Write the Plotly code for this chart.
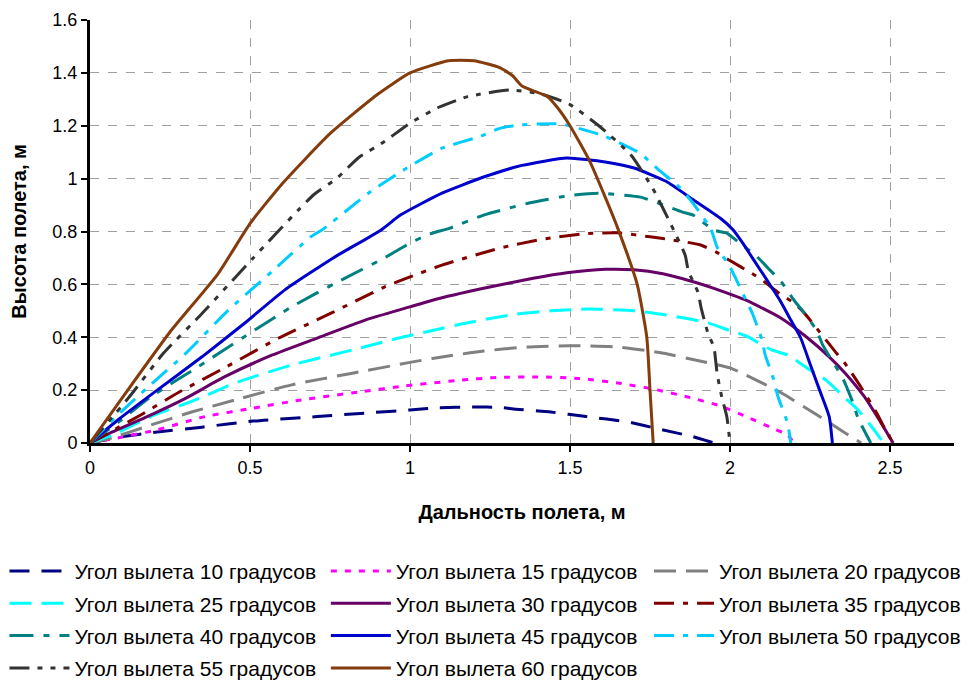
import plotly.graph_objects as go

# ---- data (x: range, m; y: height, m) ----
x10 = [0, 0.09, 0.21, 0.35, 0.51, 0.71, 0.87, 1.0, 1.09, 1.2, 1.28, 1.33, 1.44, 1.55, 1.68, 1.78, 1.885, 1.95]
y10 = [0, 0.022, 0.042, 0.06, 0.083, 0.10, 0.114, 0.125, 0.133, 0.136, 0.135, 0.128, 0.117, 0.10, 0.08, 0.052, 0.024, 0.0]

x15 = [0, 0.09, 0.21, 0.36, 0.51, 0.66, 0.84, 0.985, 1.16, 1.27, 1.4, 1.53, 1.65, 1.76, 1.865, 1.97, 2.05, 2.125, 2.18, 2.2]
y15 = [0, 0.02, 0.05, 0.1, 0.132, 0.163, 0.193, 0.216, 0.238, 0.248, 0.25, 0.244, 0.227, 0.204, 0.175, 0.14, 0.1, 0.06, 0.03, 0.0]

x20 = [0, 0.07, 0.19, 0.32, 0.475, 0.63, 0.82, 1.0, 1.07, 1.23, 1.365, 1.5, 1.65, 1.78, 1.906, 2.0, 2.05, 2.16, 2.28, 2.36, 2.41]
y20 = [0, 0.02, 0.068, 0.118, 0.17, 0.22, 0.264, 0.305, 0.32, 0.348, 0.363, 0.368, 0.363, 0.342, 0.31, 0.284, 0.257, 0.19, 0.1, 0.038, 0]

x25 = [0, 0.07, 0.19, 0.33, 0.46, 0.63, 0.82, 0.975, 1.05, 1.18, 1.33, 1.44, 1.56, 1.70, 1.80, 1.93, 2.0, 2.05, 2.13, 2.18, 2.25, 2.30, 2.36, 2.40, 2.45, 2.48]
y25 = [0, 0.03, 0.10, 0.163, 0.23, 0.295, 0.352, 0.40, 0.42, 0.455, 0.487, 0.50, 0.507, 0.50, 0.484, 0.455, 0.425, 0.405, 0.352, 0.333, 0.276, 0.238, 0.17, 0.125, 0.05, 0]

x30 = [0, 0.07, 0.17, 0.30, 0.42, 0.57, 0.71, 0.86, 1.0, 1.07, 1.23, 1.385, 1.49, 1.61, 1.70, 1.79, 1.885, 1.95, 2.05, 2.16, 2.24, 2.31, 2.36, 2.42, 2.47, 2.51]
y30 = [0, 0.042, 0.095, 0.17, 0.25, 0.333, 0.397, 0.465, 0.515, 0.54, 0.585, 0.623, 0.644, 0.657, 0.655, 0.64, 0.61, 0.585, 0.54, 0.472, 0.40, 0.326, 0.264, 0.175, 0.08, 0]

x35 = [0, 0.09, 0.16, 0.275, 0.42, 0.59, 0.76, 0.92, 1.0, 1.10, 1.28, 1.41, 1.55, 1.65, 1.75, 1.82, 1.906, 1.96, 2.0, 2.07, 2.10, 2.16, 2.20, 2.23, 2.28, 2.33, 2.36, 2.41, 2.46, 2.49, 2.51]
y35 = [0, 0.06, 0.107, 0.19, 0.284, 0.397, 0.495, 0.59, 0.628, 0.673, 0.737, 0.77, 0.792, 0.795, 0.78, 0.768, 0.75, 0.72, 0.69, 0.64, 0.617, 0.56, 0.53, 0.495, 0.42, 0.344, 0.30, 0.21, 0.11, 0.04, 0]

x40 = [0, 0.09, 0.19, 0.34, 0.48, 0.63, 0.775, 0.92, 1.0, 1.06, 1.125, 1.23, 1.38, 1.51, 1.59, 1.72, 1.77, 1.85, 1.885, 1.95, 1.99, 2.03, 2.08, 2.125, 2.16, 2.20, 2.23, 2.27, 2.29, 2.33, 2.355, 2.385, 2.40, 2.44]
y40 = [0, 0.08, 0.175, 0.29, 0.40, 0.515, 0.61, 0.70, 0.756, 0.79, 0.813, 0.862, 0.91, 0.938, 0.945, 0.93, 0.91, 0.874, 0.862, 0.805, 0.794, 0.756, 0.71, 0.654, 0.61, 0.54, 0.495, 0.427, 0.37, 0.29, 0.238, 0.15, 0.094, 0]

x45 = [0, 0.09, 0.21, 0.35, 0.48, 0.61, 0.76, 0.91, 0.97, 1.10, 1.23, 1.35, 1.49, 1.61, 1.70, 1.80, 1.885, 1.97, 2.01, 2.04, 2.07, 2.115, 2.156, 2.19, 2.22, 2.25, 2.28, 2.31, 2.32]
y45 = [0, 0.09, 0.20, 0.326, 0.45, 0.58, 0.70, 0.806, 0.862, 0.945, 1.006, 1.05, 1.078, 1.063, 1.04, 0.99, 0.92, 0.85, 0.806, 0.756, 0.70, 0.617, 0.54, 0.465, 0.40, 0.30, 0.20, 0.10, 0]

x50 = [0, 0.09, 0.18, 0.30, 0.43, 0.57, 0.69, 0.73, 0.87, 0.99, 1.10, 1.22, 1.28, 1.34, 1.40, 1.47, 1.51, 1.61, 1.72, 1.78, 1.84, 1.885, 1.94, 1.96, 2.0, 2.02, 2.05, 2.07, 2.10, 2.11, 2.135, 2.15, 2.18, 2.19]
y50 = [0, 0.11, 0.21, 0.34, 0.50, 0.65, 0.78, 0.81, 0.945, 1.04, 1.115, 1.16, 1.19, 1.203, 1.207, 1.207, 1.196, 1.16, 1.095, 1.03, 0.97, 0.906, 0.81, 0.74, 0.666, 0.617, 0.54, 0.49, 0.39, 0.333, 0.246, 0.175, 0.075, 0]

x55 = [0, 0.12, 0.23, 0.35, 0.51, 0.65, 0.70, 0.77, 0.84, 0.92, 1.0, 1.09, 1.18, 1.31, 1.41, 1.5, 1.59, 1.69, 1.76, 1.81, 1.83, 1.86, 1.87, 1.90, 1.91, 1.93, 1.95, 1.96, 1.975, 1.99, 2.0]
y55 = [0, 0.17, 0.34, 0.49, 0.70, 0.88, 0.94, 1.0, 1.08, 1.14, 1.21, 1.27, 1.31, 1.335, 1.32, 1.28, 1.20, 1.09, 0.96, 0.84, 0.79, 0.71, 0.65, 0.57, 0.51, 0.42, 0.36, 0.26, 0.17, 0.10, 0]

x60 = [0, 0.1, 0.25, 0.4, 0.5, 0.6, 0.75, 0.9, 1.0, 1.12, 1.2, 1.28, 1.32, 1.35, 1.43, 1.46, 1.5, 1.56, 1.61, 1.65, 1.71, 1.74, 1.75, 1.76]
y60 = [0, 0.17, 0.42, 0.64, 0.83, 0.98, 1.17, 1.32, 1.40, 1.446, 1.446, 1.42, 1.39, 1.35, 1.31, 1.27, 1.20, 1.07, 0.93, 0.81, 0.60, 0.40, 0.20, 0]

names = ["Угол вылета 10 градусов", "Угол вылета 15 градусов", "Угол вылета 20 градусов",
         "Угол вылета 25 градусов", "Угол вылета 30 градусов", "Угол вылета 35 градусов",
         "Угол вылета 40 градусов", "Угол вылета 45 градусов", "Угол вылета 50 градусов",
         "Угол вылета 55 градусов", "Угол вылета 60 градусов"]

xs = [x10, x15, x20, x25, x30, x35, x40, x45, x50, x55, x60]
ys = [y10, y15, y20, y25, y30, y35, y40, y45, y50, y55, y60]

colors = ["#000080", "#FF00FF", "#808080", "#00FFFF", "#660066", "#800000",
          "#008080", "#0000CC", "#00CCFF", "#333333", "#843C0C"]
dashes = ["20px,12px", "6px,8px", "22px,10px", "22px,10px", "solid", "20px,9px,5px,9px",
          "24px,10px,6px,10px", "solid", "20px,9px,5px,9px", "20px,8px,5px,8px,5px,8px", "solid"]

FONT = "Liberation Sans, Arial, sans-serif"

fig = go.Figure()
legend_ids = ["legend", "legend2", "legend3"]
for i, (x, y) in enumerate(zip(xs, ys)):
    fig.add_trace(go.Scatter(
        x=x, y=y, mode="lines", name=names[i],
        line=dict(color=colors[i], width=3, dash=dashes[i], shape="spline", smoothing=0.5),
        legend=legend_ids[i % 3], legendgroup="g%d" % i,
    ))

leg_common = dict(orientation="v", yanchor="top", xanchor="left", y=-0.255,
                  font=dict(family=FONT, size=21, color="black"),
                  bgcolor="rgba(0,0,0,0)", tracegroupgap=2, itemwidth=60)

# the page body adds an 8px offset, so the figure is 8px smaller and margins are shifted
fig.update_layout(
    width=962, height=675,
    margin=dict(l=82, r=16, t=12, b=240, autoexpand=False),
    paper_bgcolor="white", plot_bgcolor="white",
    font=dict(family=FONT, size=18, color="black"),
    legend=dict(x=-0.099, **leg_common),
    legend2=dict(x=0.273, **leg_common),
    legend3=dict(x=0.647, **leg_common),
    xaxis=dict(
        range=[0, 2.7], dtick=0.5, tick0=0,
        showline=True, linecolor="black", linewidth=3,
        ticks="outside", ticklen=6, tickwidth=2, tickcolor="black",
        showgrid=True, gridcolor="#A0A0A0", griddash="dash", gridwidth=1,
        zeroline=False, automargin=False,
        tickfont=dict(family=FONT, size=18, color="black"),
        title=dict(text="<b>Дальность полета, м</b>", standoff=29,
                   font=dict(family=FONT, size=20, color="black")),
    ),
    yaxis=dict(
        range=[0, 1.6], dtick=0.2, tick0=0,
        showline=True, linecolor="black", linewidth=3,
        ticks="outside", ticklen=6, tickwidth=2, tickcolor="black",
        showgrid=True, gridcolor="#A0A0A0", griddash="dash", gridwidth=1,
        zeroline=False, automargin=False,
        tickfont=dict(family=FONT, size=18, color="black"),
        title=dict(text="<b>Высота полета, м</b>", standoff=22,
                   font=dict(family=FONT, size=20, color="black")),
    ),
)

fig.write_html("out.html")
